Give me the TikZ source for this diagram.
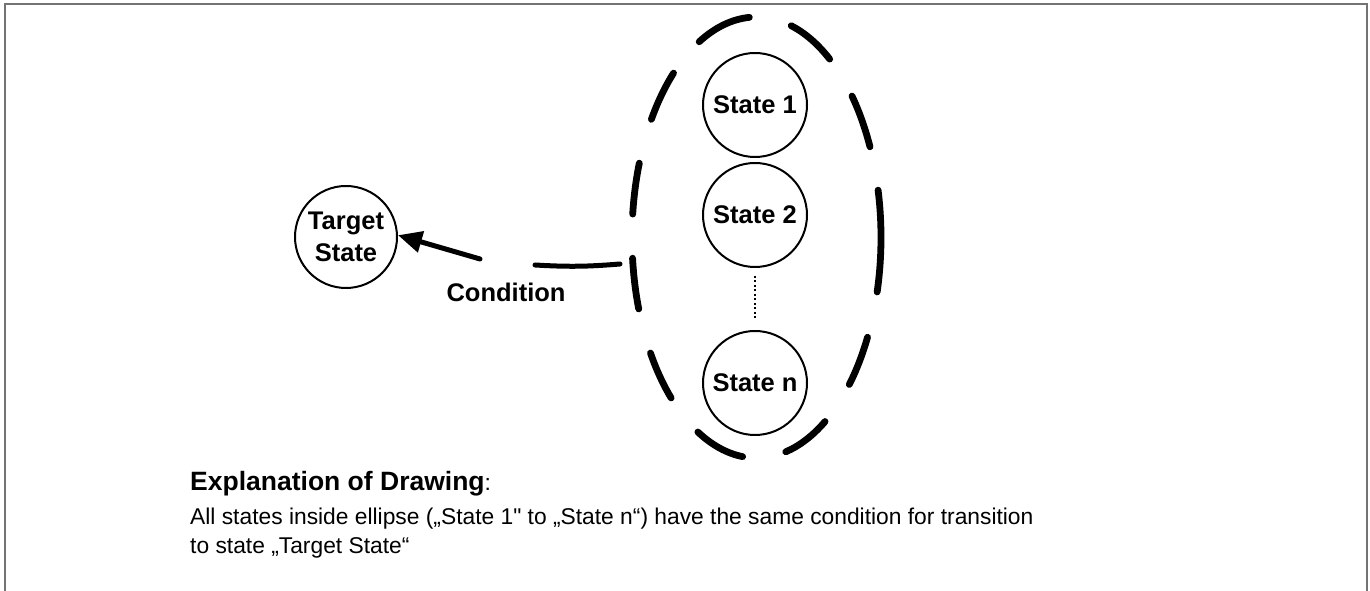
\documentclass[tikz,border=0pt]{standalone}
\usepackage{fontspec}
\setmainfont{Liberation Sans}
\newfontfamily\rawsans[Ligatures=TeXOff]{Liberation Sans}
\usetikzlibrary{shapes.geometric,arrows.meta,calc}
\newcommand{\lblfont}{\fontsize{25.5pt}{32pt}\selectfont\bfseries}
\newcommand{\explbold}{\fontsize{26.5pt}{29pt}\selectfont\bfseries}
\newcommand{\explreg}{\rawsans\fontsize{22.8pt}{29pt}\selectfont}
\begin{document}
\begin{tikzpicture}[x=1pt,y=1pt,
  frame/.style={draw=black!55, line width=2pt},
  statebox/.style={circle, draw, line width=2pt, minimum size=104pt, inner sep=0pt, font=\lblfont, align=center},
  ringdash/.style={line width=6.8pt, line cap=round},
  conn/.style={line width=5pt, line cap=round},
  dotline/.style={line width=1.6pt, dash pattern=on 2pt off 2.5pt},
  explain/.style={anchor=base west, inner sep=0pt}
]
\useasboundingbox (0,0) rectangle (1370,591);
\draw[frame] (5,-5) -- (5,587) -- (1367,587) -- (1367,-5);

% group ellipse
\node[ellipse, minimum width=249pt, minimum height=441pt, inner sep=0pt] (grp) at (756.5,353.5) {};
\foreach \a/\b in {-14.3/12.4, 24.3/39.9, 54/73.8, 93.3/117.4, 131.8/147.6, 160.3/173.9, 185.4/198.9, 211.6/226.7, 241.9/263.6, 283.6/303.4, 318.2/333.1}{
  \draw[ringdash] ($(grp.center)+(\a:124.5pt and 220.5pt)$) arc[start angle=\a, end angle=\b, x radius=124.5pt, y radius=220.5pt];
}

% states
\node[statebox] (s1) at (755,486) {State 1};
\node[statebox] (s2) at (755,376) {State 2};
\node[statebox] (sn) at (755,208) {State n};
\node[statebox, minimum size=102pt] (target) at (346,354) {Target\\State};

\draw[dotline, shorten <=8pt, shorten >=11pt] (s2) -- (sn);

% transition
\coordinate (condR) at (620,327);
\coordinate (condL) at (535,326);
\coordinate (arrS) at (480,332);
\draw[conn] (condR) to[bend left=4] (condL);
\draw[conn, -{Triangle[length=24pt,width=21pt]}] (arrS) -- (target.2);
\node[font=\lblfont, anchor=base, inner sep=0pt] (cond) at (506,289) {Condition};

% explanation
\node[explain] (ex1) at (190,100) {\explbold Explanation of Drawing\explreg\mdseries:};
\node[explain] (ex2) at (190,66) {\explreg All states inside ellipse („State 1" to „State n“) have the same condition for transition};
\node[explain] (ex3) at (190,37) {\explreg to state „Target State“};
\end{tikzpicture}
\end{document}
